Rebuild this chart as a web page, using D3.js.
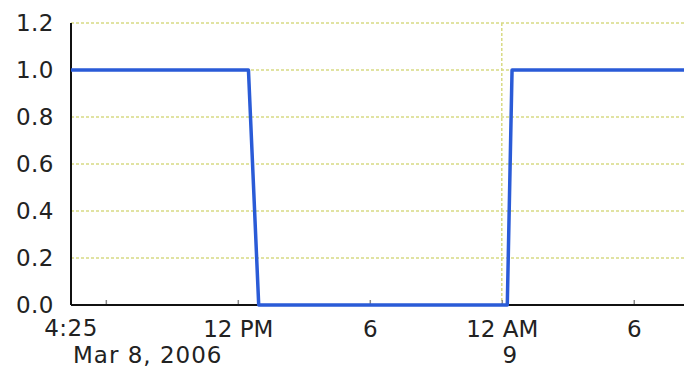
<!DOCTYPE html>
<html>
<head>
<meta charset="utf-8">
<script src="https://cdn.jsdelivr.net/npm/d3@7"></script>
<style>
body { margin: 0; background: #fff; }
svg { display: block; }
text { font-family: "DejaVu Sans", Verdana, sans-serif; fill: #222; }
</style>
</head>
<body>
<svg></svg>
<script>
// data (times in UTC to keep it timezone-free)
var times = [
	Date.UTC(2006, 2, 8, 4, 25),
	Date.UTC(2006, 2, 8, 12, 29),
	Date.UTC(2006, 2, 8, 12, 57),
	Date.UTC(2006, 2, 9, 0, 15),
	Date.UTC(2006, 2, 9, 0, 28),
	Date.UTC(2006, 2, 9, 8, 17)
]
var values = [1, 1, 0, 0, 1, 1]

var yTicks = [0, 0.2, 0.4, 0.6, 0.8, 1.0, 1.2]
var xTicks = [
	Date.UTC(2006, 2, 8, 6),
	Date.UTC(2006, 2, 8, 12),
	Date.UTC(2006, 2, 8, 18),
	Date.UTC(2006, 2, 9, 0),
	Date.UTC(2006, 2, 9, 6)
]
var xTickLabels = ['', '12 PM', '6', '12 AM', '6']
var startLabel = '4:25'
var dateLabels = ['Mar 8, 2006', '9']

var width = 684
var height = 370
var margin = {left: 71, right: 0, top: 23, bottom: 65}

var svg = d3.select('svg').attr('width', width).attr('height', height)

var x = d3.scaleUtc()
	.domain([times[0], times[times.length - 1]])
	.range([margin.left, width - margin.right])

var y = d3.scaleLinear()
	.domain([0, 1.2])
	.range([height - margin.bottom, margin.top])

var gridColor = '#d8da84'

// horizontal grid
svg.append('g').selectAll('line')
	.data(yTicks.slice(1))
	.enter().append('line')
	.attr('x1', margin.left).attr('x2', width)
	.attr('y1', function(d) {return y(d)}).attr('y2', function(d) {return y(d)})
	.attr('stroke', gridColor)
	.attr('stroke-width', 1.5)
	.attr('stroke-dasharray', '3,2')

// vertical grid at the day boundary
svg.append('line')
	.attr('x1', x(xTicks[3])).attr('x2', x(xTicks[3]))
	.attr('y1', y(1.2)).attr('y2', y(0))
	.attr('stroke', gridColor)
	.attr('stroke-width', 1.5)
	.attr('stroke-dasharray', '3,2')

// y axis labels
svg.append('g').selectAll('text')
	.data(yTicks)
	.enter().append('text')
	.attr('x', 54)
	.attr('y', function(d) {return y(d)})
	.attr('dy', '0.36em')
	.attr('text-anchor', 'end')
	.attr('font-size', 23)
	.attr('letter-spacing', 0.5)
	.text(function(d) {return d3.format('.1f')(d)})

// x axis ticks (pointing into the plot)
var xAxis = d3.axisBottom(x)
	.tickValues(xTicks)
	.tickFormat(function(d, i) {return xTickLabels[i]})
	.tickSize(-5)
	.tickPadding(16)

var gx = svg.append('g')
	.attr('transform', 'translate(0,' + y(0) + ')')
	.call(xAxis)
gx.select('.domain').remove()
gx.selectAll('.tick line').attr('stroke', '#888').attr('stroke-width', 1.5)
gx.selectAll('text')
	.attr('font-size', 23)
	.attr('font-family', '"DejaVu Sans", Verdana, sans-serif')
	.attr('fill', '#222')

svg.append('text')
	.attr('x', x(times[0]))
	.attr('y', 336)
	.attr('text-anchor', 'middle')
	.attr('font-size', 23)
	.attr('letter-spacing', 0.5)
	.text(startLabel)

svg.append('text')
	.attr('x', x(times[0]) + 2)
	.attr('y', 363)
	.attr('font-size', 23)
	.attr('letter-spacing', 1)
	.text(dateLabels[0])

svg.append('text')
	.attr('x', x(xTicks[3]) + 8)
	.attr('y', 363)
	.attr('text-anchor', 'middle')
	.attr('font-size', 23)
	.text(dateLabels[1])

// axis lines
svg.append('line')
	.attr('x1', margin.left).attr('x2', margin.left)
	.attr('y1', y(1.2)).attr('y2', y(0))
	.attr('stroke', '#111').attr('stroke-width', 2)
svg.append('line')
	.attr('x1', margin.left).attr('x2', width)
	.attr('y1', y(0)).attr('y2', y(0))
	.attr('stroke', '#111').attr('stroke-width', 2)

// the series
var line = d3.line()
	.x(function(d, i) {return x(times[i])})
	.y(function(d) {return y(d)})

svg.append('path')
	.datum(values)
	.attr('d', line)
	.attr('fill', 'none')
	.attr('stroke', '#2a5bd7')
	.attr('stroke-width', 3.5)
	.attr('stroke-linejoin', 'round')
</script>
</body>
</html>
